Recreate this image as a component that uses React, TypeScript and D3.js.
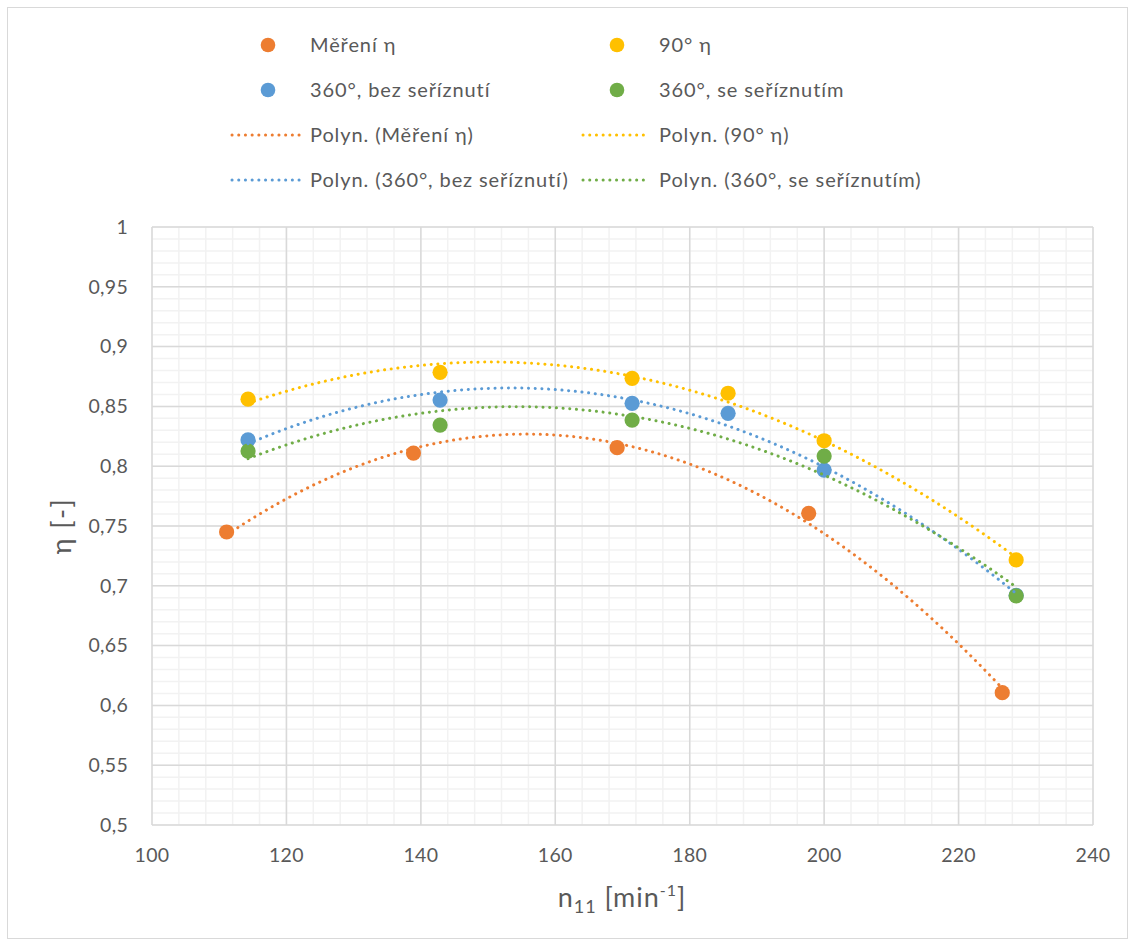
import React from 'react';
import * as d3 from 'd3';

// ---- data ----
const xMeas = [111.1, 138.9, 169.2, 197.7, 226.5];
const yMeas = [0.745, 0.811, 0.8155, 0.7606, 0.6106];
const x90 = [114.29, 142.86, 171.43, 185.71, 200, 228.57];
const y90 = [0.856, 0.8785, 0.8735, 0.861, 0.8213, 0.7216];
const xBez = [114.29, 142.86, 171.43, 185.71, 200, 228.57];
const yBez = [0.822, 0.8553, 0.8526, 0.8442, 0.7968, 0.692];
const xSe = [114.29, 142.86, 171.43, 200, 228.57];
const ySe = [0.8127, 0.8344, 0.8386, 0.8085, 0.6915];

const seriesNames = ['Měření η', '90° η', '360°, bez seříznutí', '360°, se seříznutím'];
const seriesColors = ['#ED7D31', '#FFC000', '#5B9BD5', '#70AD47'];
const xTicks = [100, 120, 140, 160, 180, 200, 220, 240];
const yTicks = [0.5, 0.55, 0.6, 0.65, 0.7, 0.75, 0.8, 0.85, 0.9, 0.95, 1];

const FONT = 'Lato, "Open Sans", sans-serif';

function quadFit(xs: number[], ys: number[]) {
  const mx = d3.mean(xs) as number;
  const s = [0, 0, 0, 0, 0];
  const t = [0, 0, 0];
  xs.forEach((xv, i) => {
    const u = xv - mx;
    for (let k = 0; k < 5; k++) s[k] += Math.pow(u, k);
    for (let k = 0; k < 3; k++) t[k] += ys[i] * Math.pow(u, k);
  });
  const A = [
    [s[0], s[1], s[2], t[0]],
    [s[1], s[2], s[3], t[1]],
    [s[2], s[3], s[4], t[2]],
  ];
  for (let i = 0; i < 3; i++) {
    let p = i;
    for (let r = i + 1; r < 3; r++) if (Math.abs(A[r][i]) > Math.abs(A[p][i])) p = r;
    [A[i], A[p]] = [A[p], A[i]];
    for (let r = 0; r < 3; r++) {
      if (r === i) continue;
      const f = A[r][i] / A[i][i];
      for (let c = i; c < 4; c++) A[r][c] -= f * A[i][c];
    }
  }
  const c = [A[0][3] / A[0][0], A[1][3] / A[1][1], A[2][3] / A[2][2]];
  return (xv: number) => {
    const u = xv - mx;
    return c[0] + c[1] * u + c[2] * u * u;
  };
}

export default function App() {
  const W = 1135, H = 946;
  const x = d3.scaleLinear().domain([100, 240]).range([152, 1093]);
  const y = d3.scaleLinear().domain([0.5, 1]).range([825, 227]);

  const series = [
    { xs: xMeas, ys: yMeas },
    { xs: x90, ys: y90 },
    { xs: xBez, ys: yBez },
    { xs: xSe, ys: ySe },
  ];

  const minorX = d3.range(100, 240.01, 4);
  const minorY = d3.range(0, 51).map((i) => 0.5 + i * 0.01);
  const fmt = (v: number) => String(+v.toFixed(2)).replace('.', ',');

  const line = d3.line<[number, number]>().x((d) => x(d[0])).y((d) => y(d[1]));

  const trendPaths = series.map((s) => {
    const f = quadFit(s.xs, s.ys);
    const x0 = d3.min(s.xs) as number, x1 = d3.max(s.xs) as number;
    const pts: [number, number][] = d3.range(x0, x1, 0.5).map((v) => [v, f(v)]);
    pts.push([x1, f(x1)]);
    return line(pts) as string;
  });

  const legendCols = [{ marker: 268, text: 310, l0: 232, l1: 300 }, { marker: 617, text: 659, l0: 583, l1: 648 }];
  const legendRows = [45, 90, 135, 180];
  const dotStyle = { strokeWidth: 3, strokeDasharray: '0.1 6.6', strokeLinecap: 'round' as const, fill: 'none' };
  const LEG_FS = 20;
  const LEG_LS = 0.9;

  return (
    <svg width={W} height={H} style={{ position: 'absolute', left: 0, top: 0, background: '#fff' }} fontFamily={FONT}>
      <rect x={7.5} y={7.5} width={1120} height={931} fill="#fff" stroke="#d9d9d9" strokeWidth={1} />
      {/* minor grid */}
      {minorX.map((v) => (
        <line key={'mx' + v} x1={x(v)} x2={x(v)} y1={y(0.5)} y2={y(1)} stroke="#f2f2f2" strokeWidth={1.5} />
      ))}
      {minorY.map((v) => (
        <line key={'my' + v} x1={x(100)} x2={x(240)} y1={y(v)} y2={y(v)} stroke="#f2f2f2" strokeWidth={1.5} />
      ))}
      {/* major grid */}
      {xTicks.map((v) => (
        <line key={'Mx' + v} x1={x(v)} x2={x(v)} y1={y(0.5)} y2={y(1)} stroke="#d9d9d9" strokeWidth={1.5} />
      ))}
      {yTicks.map((v) => (
        <line key={'My' + v} x1={x(100)} x2={x(240)} y1={y(v)} y2={y(v)} stroke="#d9d9d9" strokeWidth={1.5} />
      ))}
      {/* tick labels */}
      {yTicks.map((v) => (
        <text key={'ty' + v} x={128} y={y(v)} dy="0.35em" textAnchor="end" fontSize={19.5} letterSpacing={0.3} fill="#595959">
          {fmt(v)}
        </text>
      ))}
      {xTicks.map((v) => (
        <text key={'tx' + v} x={x(v)} y={855} dy="0.35em" textAnchor="middle" fontSize={19.5} letterSpacing={0.3} fill="#595959">
          {v}
        </text>
      ))}
      {/* axis titles */}
      <text x={622} y={907} textAnchor="middle" fontSize={27} letterSpacing={1} fill="#595959">
        n<tspan fontSize={18} dy={6}>11</tspan>
        <tspan dy={-6}> [min</tspan>
        <tspan fontSize={16} dy={-11}>-1</tspan>
        <tspan dy={11}>]</tspan>
      </text>
      <text transform="translate(62,526) rotate(-90)" textAnchor="middle" dy="0.35em" fontSize={27} letterSpacing={1.5} fill="#595959">
        η [-]
      </text>
      {/* markers */}
      {series.map((s, si) =>
        s.xs.map((xv, i) => (
          <circle key={'p' + si + '-' + i} cx={x(xv)} cy={y(s.ys[i])} r={7.6} fill={seriesColors[si]} />
        ))
      )}
      {/* trendlines */}
      {trendPaths.map((d, si) => (
        <path key={'t' + si} d={d} stroke={seriesColors[si]} {...dotStyle} />
      ))}
      {/* legend */}
      {seriesNames.map((name, si) => {
        const col = legendCols[si % 2];
        const ry = legendRows[Math.floor(si / 2)];
        return (
          <g key={'lm' + si}>
            <circle cx={col.marker} cy={ry} r={7.3} fill={seriesColors[si]} />
            <text x={col.text} y={ry} dy="0.35em" fontSize={LEG_FS} letterSpacing={LEG_LS} fill="#595959">{name}</text>
          </g>
        );
      })}
      {seriesNames.map((name, si) => {
        const col = legendCols[si % 2];
        const ry = legendRows[2 + Math.floor(si / 2)];
        return (
          <g key={'lt' + si}>
            <line x1={col.l0} x2={col.l1} y1={ry} y2={ry} stroke={seriesColors[si]} {...dotStyle} />
            <text x={col.text} y={ry} dy="0.35em" fontSize={LEG_FS} letterSpacing={LEG_LS} fill="#595959">{'Polyn. (' + name + ')'}</text>
          </g>
        );
      })}
    </svg>
  );
}
